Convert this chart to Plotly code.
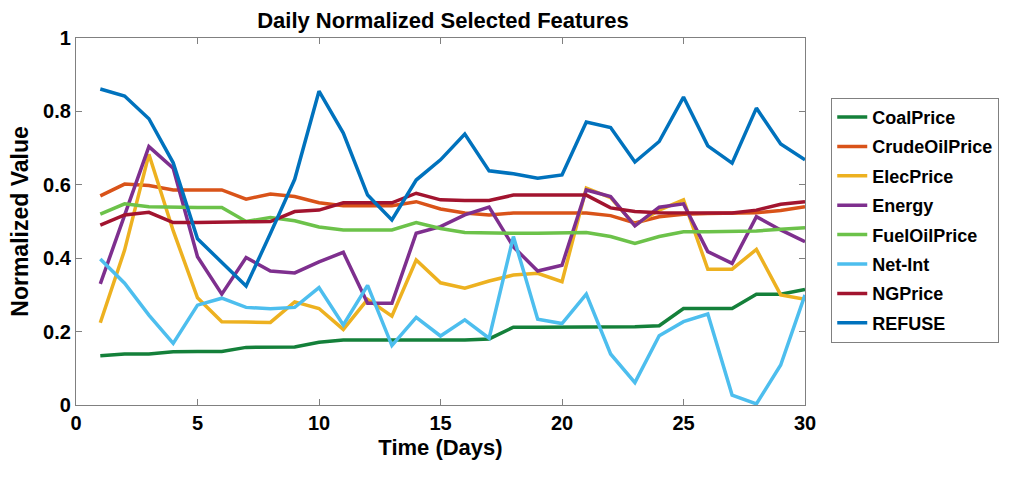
import plotly.graph_objects as go

days = list(range(1, 31))

coal = [0.134, 0.139, 0.139, 0.145, 0.146, 0.146, 0.157, 0.157, 0.158, 0.171,
        0.177, 0.177, 0.177, 0.177, 0.177, 0.177, 0.180, 0.212, 0.212, 0.212,
        0.212, 0.212, 0.213, 0.216, 0.263, 0.263, 0.263, 0.302, 0.302, 0.315]
crude = [0.570, 0.602, 0.598, 0.586, 0.586, 0.586, 0.561, 0.575, 0.568, 0.551,
         0.543, 0.543, 0.543, 0.554, 0.534, 0.523, 0.518, 0.523, 0.523, 0.523,
         0.523, 0.516, 0.496, 0.513, 0.520, 0.522, 0.522, 0.524, 0.530, 0.540]
elec = [0.224, 0.422, 0.683, 0.475, 0.292, 0.227, 0.226, 0.225, 0.281, 0.263,
        0.206, 0.288, 0.242, 0.395, 0.333, 0.318, 0.338, 0.354, 0.359, 0.336,
        0.591, 0.565, 0.490, 0.531, 0.559, 0.370, 0.370, 0.424, 0.300, 0.288]
energy = [0.330, 0.520, 0.704, 0.645, 0.404, 0.302, 0.402, 0.365, 0.360, 0.390,
          0.416, 0.277, 0.277, 0.468, 0.486, 0.518, 0.539, 0.431, 0.365, 0.381,
          0.586, 0.568, 0.488, 0.539, 0.548, 0.418, 0.386, 0.513, 0.477, 0.445]
fueloil = [0.520, 0.548, 0.540, 0.538, 0.538, 0.538, 0.500, 0.511, 0.502, 0.485,
           0.477, 0.477, 0.477, 0.497, 0.481, 0.470, 0.468, 0.468, 0.468, 0.468,
           0.470, 0.459, 0.440, 0.459, 0.472, 0.472, 0.472, 0.474, 0.479, 0.483]
netint = [0.398, 0.332, 0.245, 0.168, 0.272, 0.291, 0.266, 0.262, 0.266, 0.320,
          0.218, 0.326, 0.162, 0.239, 0.188, 0.232, 0.182, 0.459, 0.234, 0.222,
          0.302, 0.139, 0.061, 0.189, 0.227, 0.248, 0.027, 0.003, 0.109, 0.300]
ngprice = [0.490, 0.518, 0.525, 0.497, 0.497, 0.497, 0.499, 0.500, 0.527, 0.531,
           0.551, 0.551, 0.551, 0.577, 0.559, 0.557, 0.557, 0.572, 0.572, 0.572,
           0.572, 0.537, 0.527, 0.524, 0.523, 0.523, 0.523, 0.531, 0.547, 0.554]
refuse = [0.861, 0.842, 0.780, 0.660, 0.453, 0.390, 0.324, 0.467, 0.615, 0.855,
          0.741, 0.572, 0.504, 0.613, 0.668, 0.738, 0.638, 0.630, 0.618, 0.627,
          0.771, 0.756, 0.662, 0.718, 0.839, 0.706, 0.659, 0.809, 0.711, 0.668]

names = ["CoalPrice", "CrudeOilPrice", "ElecPrice", "Energy",
         "FuelOilPrice", "Net-Int", "NGPrice", "REFUSE"]
series = [coal, crude, elec, energy, fueloil, netint, ngprice, refuse]
colors = ["#14803A", "#D95319", "#EDB120", "#7E2F8E",
          "#6CC24A", "#4DBEEE", "#A2142F", "#0072BD"]

x_ticks = [0, 5, 10, 15, 20, 25, 30]
y_ticks = [0, 0.2, 0.4, 0.6, 0.8, 1]
y_tick_text = ["0", "0.2", "0.4", "0.6", "0.8", "1"]

FONT = "Liberation Sans, Arial, sans-serif"

fig = go.Figure()
for i, (nm, s, c) in enumerate(zip(names, series, colors)):
    fig.add_trace(go.Scatter(x=days, y=s, mode="lines", name=nm,
                             legendgroup=nm,
                             line=dict(color=c, width=3.5)))

axis_common = dict(showline=True, linecolor="#808080", linewidth=1.2,
                   mirror="ticks", ticks="inside", ticklen=6,
                   tickcolor="#808080", showgrid=False, zeroline=False,
                   tickfont=dict(family=FONT, size=20, color="black",
                                 weight="bold"))

fig.update_xaxes(range=[0, 30], tickvals=x_ticks,
                 title=dict(text="<b>Time (Days)</b>",
                            font=dict(family=FONT, size=22, color="black"),
                            standoff=6),
                 **axis_common)
fig.update_yaxes(range=[0, 1], tickvals=y_ticks, ticktext=y_tick_text,
                 title=dict(text="<b>Normalized Value</b>",
                            font=dict(family=FONT, size=23, color="black"),
                            standoff=8),
                 **axis_common)

fig.update_layout(
    width=1011, height=480,
    margin=dict(l=76, r=201, t=38, b=75),
    plot_bgcolor="white", paper_bgcolor="white",
    font=dict(family=FONT, color="black"),
    title=dict(text="<b>Daily Normalized Selected Features</b>",
               x=(76 + 810) / 2 / 1011, xanchor="center",
               y=1 - 20 / 480, yanchor="middle",
               font=dict(family=FONT, size=22, color="black")),
    legend=dict(x=1.036, xanchor="left", y=0.837, yanchor="top",
                bordercolor="#808080", borderwidth=1, bgcolor="white",
                font=dict(family=FONT, size=18, color="black",
                          weight="bold"),
                tracegroupgap=3, itemwidth=30),
    showlegend=True,
)

fig.write_html("out.html")
